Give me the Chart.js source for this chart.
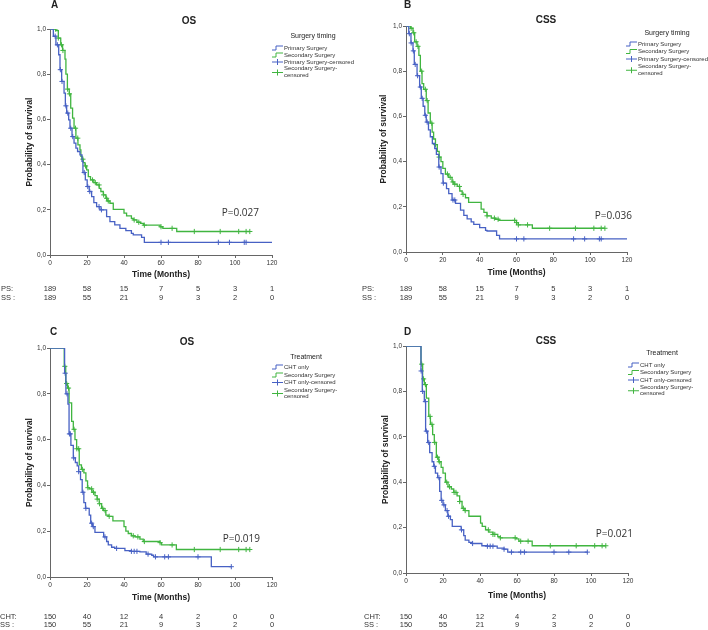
<!DOCTYPE html>
<html>
<head>
<meta charset="utf-8">
<script src="https://cdn.jsdelivr.net/npm/chart.js@4.4.1/dist/chart.umd.min.js"></script>
<style>
  body { margin: 0; background: #fff; }
  #wrap { position: relative; width: 708px; height: 630px; }
  canvas { position: absolute; }
</style>
</head>
<body>
<div id="wrap">
  <canvas id="panelA" width="354" height="315" style="left:0;top:0"></canvas>
  <canvas id="panelB" width="354" height="315" style="left:354px;top:0"></canvas>
  <canvas id="panelC" width="354" height="315" style="left:0;top:315px"></canvas>
  <canvas id="panelD" width="354" height="315" style="left:354px;top:315px"></canvas>
</div>
<script>
'use strict';

// time axis ticks (months) used for the number-at-risk table too
const xTicks = [0, 20, 40, 60, 80, 100, 120];

// numbers at risk
const riskPS = [189, 58, 15, 7, 5, 3, 1];
const riskSSa = [189, 55, 21, 9, 3, 2, 0];
const riskCHT = [150, 40, 12, 4, 2, 0, 0];
const riskSSb = [150, 55, 21, 9, 3, 2, 0];

// A: OS by surgery timing
const osPrimaryT = [0, 1.8, 3.2, 4.7, 5.4, 6.3, 7.6, 8.3, 9, 10.1, 10.8, 11.9, 13, 14, 14.9, 16.2, 17.3, 17.8, 19.1, 20.1, 21.2, 22.5, 23.7, 25.2, 27, 30.6, 32.4, 35, 37.8, 41, 44, 45, 49.5, 51, 120];
const osPrimaryS = [1, 0.968, 0.93, 0.886, 0.82, 0.768, 0.716, 0.66, 0.628, 0.598, 0.561, 0.524, 0.495, 0.473, 0.458, 0.443, 0.414, 0.365, 0.332, 0.303, 0.281, 0.258, 0.232, 0.214, 0.2, 0.17, 0.148, 0.133, 0.118, 0.108, 0.096, 0.089, 0.078, 0.056, 0.056];
const osPrimaryCens = [2.8, 4, 5.6, 6.5, 8.6, 9.6, 11.2, 12.3, 18.5, 20.4, 21.5, 26.5, 27.8, 60, 64, 91, 97, 105, 106];
const osSecondT = [0, 3.2, 4.5, 5.8, 6.8, 8.1, 8.6, 9.4, 10.4, 11.2, 12.2, 13, 14, 15.1, 16.2, 16.7, 17.3, 18, 18.9, 19.8, 20.7, 21.9, 23.7, 25.2, 26.6, 27.5, 28.8, 30.2, 30.9, 32.4, 34.2, 40, 41.4, 44, 45, 47, 49, 50.5, 59.5, 61, 68.5, 108];
const osSecondS = [1, 0.993, 0.96, 0.93, 0.905, 0.867, 0.8, 0.734, 0.713, 0.65, 0.606, 0.561, 0.517, 0.487, 0.465, 0.436, 0.424, 0.409, 0.394, 0.377, 0.347, 0.332, 0.32, 0.31, 0.295, 0.281, 0.266, 0.251, 0.239, 0.229, 0.202, 0.185, 0.173, 0.162, 0.155, 0.145, 0.14, 0.132, 0.125, 0.118, 0.104, 0.104];
const osSecondCens = [3, 4.5, 6.2, 7, 9.5, 10.5, 13.8, 15, 17.8, 19.2, 23, 24.5, 26.5, 29, 30.6, 31.5, 45.5, 48, 51, 60, 66, 78, 92, 102, 106, 108];

// B: CSS by surgery timing
const cssPrimaryT = [0, 1.5, 2.7, 3.8, 4.5, 6, 7.4, 8.3, 9.3, 10.2, 11, 12.2, 13.2, 14.3, 15.6, 16.5, 17.8, 19, 20.1, 22, 23.2, 25, 26.9, 29.6, 31.4, 33.2, 35.4, 36.8, 40, 43.2, 44, 49.2, 50.8, 120];
const cssPrimaryS = [1, 0.966, 0.925, 0.89, 0.83, 0.78, 0.73, 0.68, 0.645, 0.605, 0.575, 0.54, 0.51, 0.48, 0.458, 0.432, 0.376, 0.347, 0.305, 0.28, 0.258, 0.23, 0.215, 0.185, 0.162, 0.147, 0.133, 0.122, 0.108, 0.096, 0.093, 0.074, 0.058, 0.058];
const cssPrimaryCens = [1.8, 2.8, 4, 5, 6.3, 7.8, 8.8, 10.5, 11.5, 18, 20.3, 25.5, 26.5, 60, 64, 91, 97, 105, 106];
const cssSecondT = [0, 2.5, 3.8, 4.7, 6, 7, 7.8, 8.7, 9.6, 11, 12, 13.2, 14.2, 15, 16, 17, 18, 19, 20, 21.4, 23.2, 25, 26, 27.8, 29.2, 30.5, 32.3, 34, 40.8, 42.3, 44, 46.3, 48.6, 50.4, 60, 61, 68.6, 108];
const cssSecondS = [1, 0.99, 0.97, 0.93, 0.91, 0.87, 0.8, 0.745, 0.72, 0.67, 0.615, 0.57, 0.53, 0.5, 0.475, 0.445, 0.42, 0.4, 0.37, 0.345, 0.33, 0.31, 0.3, 0.29, 0.27, 0.255, 0.24, 0.22, 0.19, 0.175, 0.16, 0.15, 0.145, 0.14, 0.13, 0.12, 0.105, 0.105];
const cssSecondCens = [2.8, 4.2, 5.5, 6.5, 8.5, 10.5, 11.5, 14, 16, 18, 22.5, 24, 25.5, 26.5, 29, 31, 44, 48, 50, 59, 60, 61, 66, 78, 92, 102, 106, 108];

// C: OS by treatment
const osChtT = [0, 7.9, 8.6, 9.7, 10.3, 11.3, 12.6, 13.7, 14.7, 15.5, 16.5, 17.4, 18.3, 19.2, 21.2, 22, 23, 24.3, 29, 30.6, 31.5, 33.3, 35, 40.5, 44, 48.6, 52, 55, 56, 87.2, 98];
const osChtS = [1, 0.89, 0.8, 0.755, 0.625, 0.575, 0.52, 0.5, 0.485, 0.46, 0.425, 0.37, 0.325, 0.3, 0.27, 0.235, 0.22, 0.195, 0.175, 0.155, 0.14, 0.13, 0.125, 0.115, 0.112, 0.11, 0.1, 0.095, 0.088, 0.045, 0.045];
const osChtCens = [8.2, 9.2, 10.5, 11, 12.8, 15.5, 17.8, 19.4, 22.5, 23.4, 29.7, 36, 44, 45.5, 47, 53, 57, 62, 64, 80, 98];
const osSsT = [0, 7.7, 8.5, 9.5, 10.3, 11.7, 12.6, 13.5, 14.4, 15.8, 17, 18.3, 19.4, 20.3, 21.2, 22.7, 24.3, 25.5, 26.6, 27.9, 29, 30.2, 31.5, 34, 40, 41, 42.3, 44, 45.9, 48.6, 50.4, 59.4, 60.3, 68.3, 108];
const osSsS = [1, 0.92, 0.845, 0.825, 0.76, 0.68, 0.645, 0.6, 0.56, 0.49, 0.47, 0.455, 0.42, 0.39, 0.385, 0.37, 0.355, 0.34, 0.32, 0.3, 0.29, 0.27, 0.265, 0.245, 0.22, 0.2, 0.19, 0.18, 0.175, 0.165, 0.155, 0.15, 0.14, 0.12, 0.12];
const osSsCens = [8, 9, 10, 13, 14.5, 15.5, 17.5, 20.5, 22.5, 23.5, 25.5, 26.8, 28.5, 29.8, 32, 45, 47.5, 51, 59.5, 66, 78, 92, 102, 106, 108];

// D: CSS by treatment
const cssChtT = [0, 8.1, 8.8, 9.9, 10.6, 11.7, 12.8, 14.1, 15, 15.9, 17.1, 18.2, 19, 20, 21.3, 22.6, 24, 25, 29.8, 31.2, 32, 34, 35.7, 41, 43.9, 49.3, 52.9, 55, 98];
const cssChtS = [1, 0.89, 0.8, 0.755, 0.625, 0.575, 0.53, 0.49, 0.47, 0.44, 0.42, 0.36, 0.32, 0.3, 0.275, 0.25, 0.235, 0.205, 0.19, 0.165, 0.145, 0.135, 0.13, 0.12, 0.118, 0.11, 0.105, 0.092, 0.092];
const cssChtCens = [8.2, 9, 10.5, 11, 12.3, 15.3, 17.8, 19.3, 20.5, 22.2, 23, 30, 36, 44, 45.5, 47, 53, 57, 62, 64, 80, 88, 98];
const cssSsT = [0, 8.1, 9, 9.9, 11, 12.3, 13.2, 14.4, 15.3, 16.4, 17.7, 19, 20, 21.3, 22.7, 24.5, 25.8, 27.6, 29, 30.3, 31.8, 34, 40.3, 41.2, 43, 44.8, 47, 49.6, 51, 59.6, 61, 68.2, 108];
const cssSsS = [1, 0.92, 0.855, 0.83, 0.77, 0.69, 0.655, 0.61, 0.575, 0.51, 0.49, 0.465, 0.44, 0.4, 0.38, 0.37, 0.355, 0.34, 0.315, 0.285, 0.275, 0.25, 0.22, 0.205, 0.19, 0.18, 0.17, 0.16, 0.155, 0.15, 0.14, 0.12, 0.12];
const cssSsCens = [8.5, 9.5, 10.5, 13, 14, 15.5, 17, 18, 22, 23.5, 26, 27, 29, 31, 32, 44.5, 47, 48, 51, 59, 62, 66, 78, 92, 102, 106, 108];

const BLUE = '#4761c4';
const GREEN = '#40b540';
const AXIS = '#666';
const TXT = '#222';

// survival value in effect at time t (used to sit censor marks on the curve)
function survAt(times, surv, t) {
  let s = surv[0];
  for (let i = 0; i < times.length; i++) {
    if (times[i] <= t) s = surv[i];
  }
  return s;
}

function curve(times, surv, color) {
  return {
    data: times.map((t, i) => ({ x: t, y: surv[i] })),
    borderColor: color,
    borderWidth: 1.3,
    stepped: true,
    pointRadius: 0,
    fill: false
  };
}

function censors(times, surv, cens, color) {
  return {
    data: cens.map(t => ({ x: t, y: survAt(times, surv, t) })),
    borderColor: color,
    backgroundColor: color,
    showLine: false,
    pointStyle: 'cross',
    pointRadius: 2.6,
    pointBorderWidth: 1
  };
}

// draws panel letter, title, legend, p value and number-at-risk table
const extrasPlugin = {
  id: 'kmExtras',
  afterDraw(chart, args, o) {
    const ctx = chart.ctx;
    ctx.save();
    ctx.fillStyle = TXT;
    ctx.textBaseline = 'middle';

    ctx.font = 'bold 10px "Liberation Sans"';
    ctx.textAlign = 'left';
    ctx.fillText(o.letter, o.letterX, o.letterY);
    ctx.textAlign = 'center';
    ctx.fillText(o.title, o.titleX, o.titleY);

    // legend
    ctx.font = '7px "Liberation Sans"';
    ctx.fillText(o.legendTitle, o.legendTitleX, o.legendTitleY);
    ctx.font = '6px "Liberation Sans"';
    ctx.textAlign = 'left';
    const lx = o.legendX, r = o.legendRows;
    const items = [
      { y: r[0], color: BLUE, cens: false, lines: [o.names[0]], ty: [r[0]] },
      { y: r[1], color: GREEN, cens: false, lines: [o.names[1]], ty: [r[1]] },
      { y: r[2], color: BLUE, cens: true, lines: [o.names[0] + '-censored'], ty: [r[2]] },
      { y: (r[3] + r[4]) / 2 + 0.5, color: GREEN, cens: true, lines: [o.names[1] + '-', 'censored'], ty: [r[3], r[4]] }
    ];
    items.forEach(it => {
      ctx.strokeStyle = it.color;
      ctx.lineWidth = 1;
      ctx.beginPath();
      if (it.cens) {
        ctx.moveTo(lx, it.y); ctx.lineTo(lx + 11, it.y);
        ctx.moveTo(lx + 5.5, it.y - 3); ctx.lineTo(lx + 5.5, it.y + 3);
      } else {
        ctx.moveTo(lx, it.y + 2); ctx.lineTo(lx + 4, it.y + 2);
        ctx.lineTo(lx + 4, it.y - 2); ctx.lineTo(lx + 11, it.y - 2);
      }
      ctx.stroke();
      ctx.fillStyle = '#333';
      it.lines.forEach((s, k) => ctx.fillText(s, lx + 12, it.ty[k]));
    });

    // p value
    ctx.font = '10px "Open Sans"';
    ctx.fillStyle = '#333';
    ctx.textAlign = 'right';
    ctx.fillText(o.pText, o.pX, o.pY);

    // number at risk
    const xs = chart.scales.x;
    ctx.font = '7.5px "Liberation Sans"';
    o.risk.forEach((row, k) => {
      ctx.textAlign = 'left';
      ctx.fillText(o.riskNames[k], o.riskLabelX, o.riskY[k]);
      ctx.textAlign = 'center';
      row.forEach((v, i) => ctx.fillText(String(v), xs.getPixelForValue(xTicks[i]), o.riskY[k]));
    });
    ctx.restore();
  }
};

function makePanel(p) {
  const W = 354, H = 315;
  new Chart(document.getElementById(p.id), {
    type: 'line',
    data: {
      datasets: [
        curve(p.aT, p.aS, BLUE),
        curve(p.bT, p.bS, GREEN),
        censors(p.aT, p.aS, p.aC, BLUE),
        censors(p.bT, p.bS, p.bC, GREEN)
      ]
    },
    options: {
      responsive: false,
      devicePixelRatio: 1,
      animation: false,
      events: [],
      layout: { padding: { left: 0, top: p.plot.t, right: W - p.plot.r, bottom: 0 } },
      plugins: {
        legend: { display: false },
        tooltip: { enabled: false },
        kmExtras: p.extras
      },
      scales: {
        x: {
          type: 'linear',
          min: 0,
          max: 120,
          afterFit: s => { s.height = H - p.plot.b; },
          afterBuildTicks: s => { s.ticks = xTicks.map(v => ({ value: v })); },
          border: { display: true, color: AXIS, width: 1 },
          grid: { drawOnChartArea: false, drawTicks: true, tickLength: 3, color: AXIS },
          ticks: { font: { family: 'Liberation Sans', size: 6.5 }, color: '#333', padding: 1, maxRotation: 0 },
          title: {
            display: true,
            text: 'Time (Months)',
            color: TXT,
            font: { family: 'Liberation Sans', size: 8.5, weight: 'bold' },
            padding: { top: 0, bottom: (H - p.xTitleY) - 5.1 }
          }
        },
        y: {
          min: 0,
          max: 1,
          afterFit: s => { s.width = p.plot.l; },
          border: { display: true, color: AXIS, width: 1 },
          grid: { drawOnChartArea: false, drawTicks: true, tickLength: 3, color: AXIS },
          ticks: {
            stepSize: 0.2,
            font: { family: 'Liberation Sans', size: 6.5 },
            color: '#333',
            padding: 1,
            callback: v => v.toFixed(1).replace('.', ',')
          },
          title: {
            display: true,
            text: 'Probability of survival',
            color: TXT,
            font: { family: 'Liberation Sans', size: 8.5, weight: 'bold' },
            padding: { top: p.yTitleX - 5.1, bottom: 0 }
          }
        }
      }
    },
    plugins: [extrasPlugin]
  });
}

const surgeryNames = ['Primary Surgery', 'Secondary Surgery'];
const treatNames = ['CHT only', 'Secondary Surgery'];

makePanel({
  id: 'panelA', plot: { l: 50, r: 272, t: 29, b: 255 }, yTitleX: 30, xTitleY: 275,
  aT: osPrimaryT, aS: osPrimaryS, aC: osPrimaryCens, bT: osSecondT, bS: osSecondS, bC: osSecondCens,
  extras: {
    letter: 'A', letterX: 51, letterY: 5, title: 'OS', titleX: 189, titleY: 21,
    legendTitle: 'Surgery timing', legendTitleX: 313, legendTitleY: 36, legendX: 272,
    legendRows: [48, 55, 62, 68.5, 75.5], names: surgeryNames,
    pText: 'P=0.027', pX: 259, pY: 213,
    riskNames: ['PS:', 'SS :'], risk: [riskPS, riskSSa], riskLabelX: 1, riskY: [289, 298]
  }
});

makePanel({
  id: 'panelB', plot: { l: 52, r: 273, t: 26, b: 252 }, yTitleX: 30, xTitleY: 273,
  aT: cssPrimaryT, aS: cssPrimaryS, aC: cssPrimaryCens, bT: cssSecondT, bS: cssSecondS, bC: cssSecondCens,
  extras: {
    letter: 'B', letterX: 50, letterY: 5, title: 'CSS', titleX: 192, titleY: 20,
    legendTitle: 'Surgery timing', legendTitleX: 313, legendTitleY: 33, legendX: 272,
    legendRows: [44, 51.5, 59, 66.5, 73], names: surgeryNames,
    pText: 'P=0.036', pX: 278, pY: 216,
    riskNames: ['PS:', 'SS :'], risk: [riskPS, riskSSa], riskLabelX: 8, riskY: [289, 298]
  }
});

makePanel({
  id: 'panelC', plot: { l: 50, r: 272, t: 33, b: 262 }, yTitleX: 30, xTitleY: 283,
  aT: osChtT, aS: osChtS, aC: osChtCens, bT: osSsT, bS: osSsS, bC: osSsCens,
  extras: {
    letter: 'C', letterX: 50, letterY: 17, title: 'OS', titleX: 187, titleY: 27,
    legendTitle: 'Treatment', legendTitleX: 306, legendTitleY: 42, legendX: 272,
    legendRows: [52, 60, 67.5, 75, 81], names: treatNames,
    pText: 'P=0.019', pX: 260, pY: 224,
    riskNames: ['CHT:', 'SS :'], risk: [riskCHT, riskSSb], riskLabelX: 0, riskY: [302, 309.5]
  }
});

makePanel({
  id: 'panelD', plot: { l: 52, r: 274, t: 31, b: 258 }, yTitleX: 32, xTitleY: 281,
  aT: cssChtT, aS: cssChtS, aC: cssChtCens, bT: cssSsT, bS: cssSsS, bC: cssSsCens,
  extras: {
    letter: 'D', letterX: 50, letterY: 17, title: 'CSS', titleX: 192, titleY: 26,
    legendTitle: 'Treatment', legendTitleX: 308, legendTitleY: 38, legendX: 274,
    legendRows: [50, 57.5, 65, 72, 78.5], names: treatNames,
    pText: 'P=0.021', pX: 279, pY: 219,
    riskNames: ['CHT:', 'SS :'], risk: [riskCHT, riskSSb], riskLabelX: 10, riskY: [302, 310]
  }
});
</script>
</body>
</html>
